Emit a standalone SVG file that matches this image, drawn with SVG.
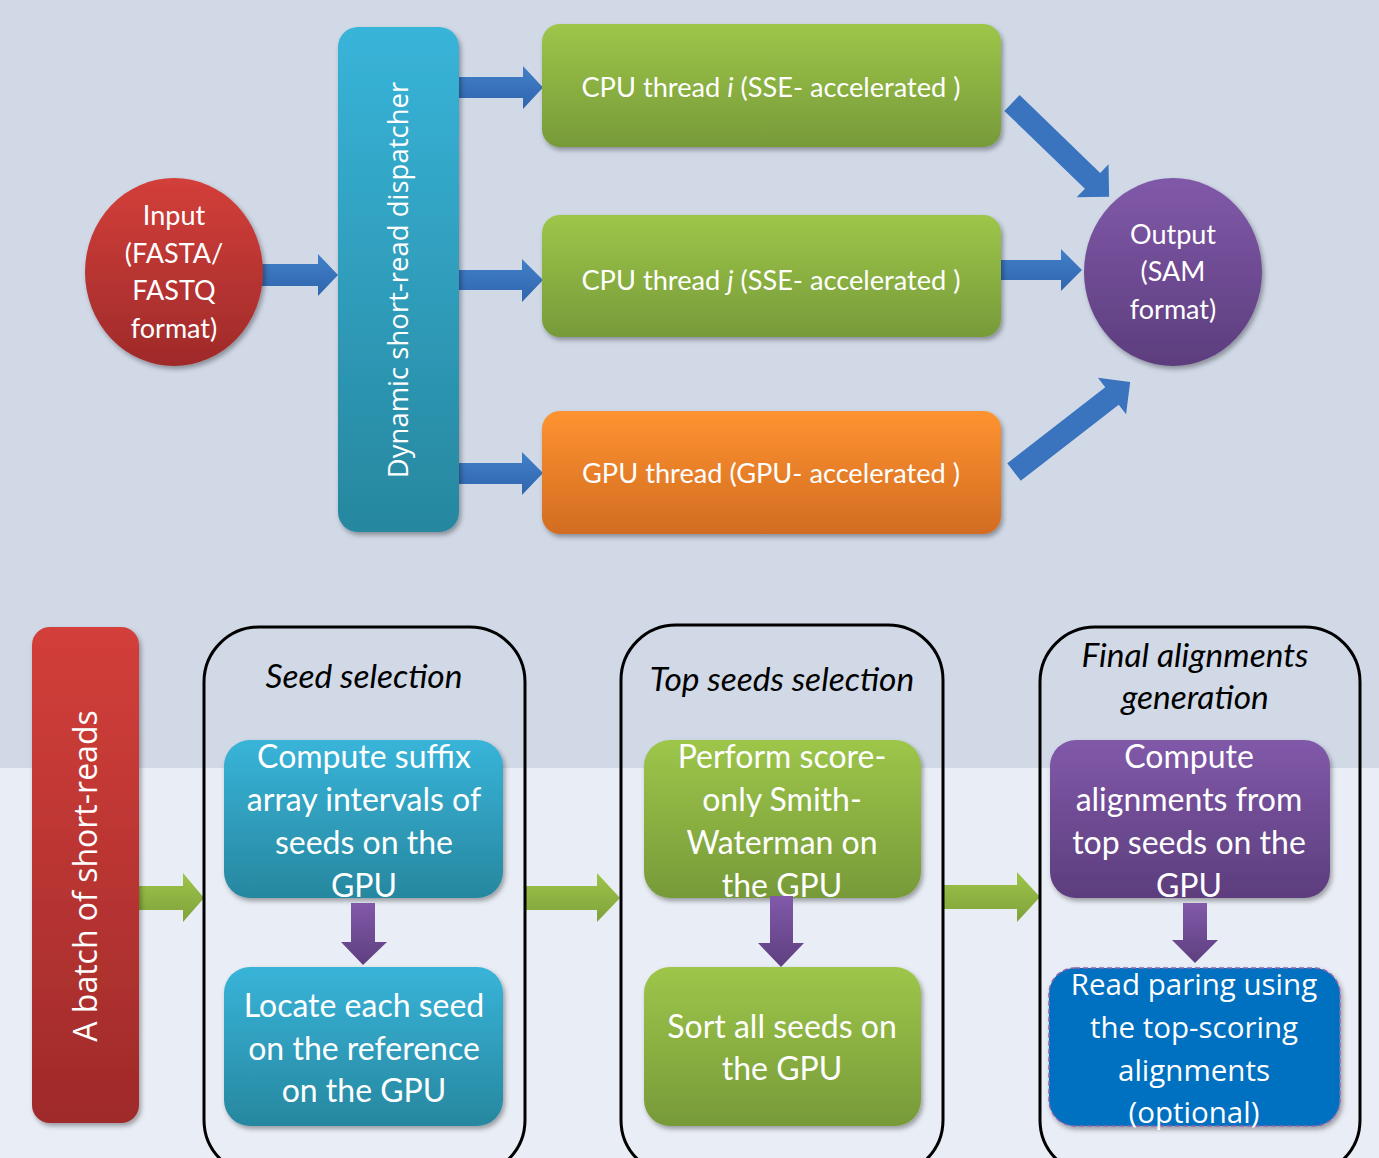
<svg xmlns="http://www.w3.org/2000/svg" width="1379" height="1158" viewBox="0 0 1379 1158">
<defs>
<style>
.cal{font-family:Lato,"Open Sans",sans-serif;fill:#fff;text-anchor:middle}
.seg{font-family:"Open Sans","Noto Sans",sans-serif;fill:#fff;text-anchor:middle}
.ttl{font-family:Lato,"Open Sans",sans-serif;font-style:italic;fill:#000;text-anchor:middle;font-size:33.5px}
.frame{fill:none;stroke:#000;stroke-width:3}
</style>
<linearGradient id="gGreen" x1="0" y1="0" x2="0" y2="1"><stop offset="0" stop-color="#9dc64a"/><stop offset="1" stop-color="#779a39"/></linearGradient>
<linearGradient id="gOrange" x1="0" y1="0" x2="0" y2="1"><stop offset="0" stop-color="#fe9330"/><stop offset="1" stop-color="#d26c22"/></linearGradient>
<linearGradient id="gCyan" x1="0" y1="0" x2="0" y2="1"><stop offset="0" stop-color="#38b4d9"/><stop offset="1" stop-color="#27879f"/></linearGradient>
<linearGradient id="gPurple" x1="0" y1="0" x2="0" y2="1"><stop offset="0" stop-color="#8159a9"/><stop offset="1" stop-color="#5c3d7d"/></linearGradient>
<linearGradient id="gRed" x1="0" y1="0" x2="0" y2="1"><stop offset="0" stop-color="#d33f3a"/><stop offset="1" stop-color="#9f2a2a"/></linearGradient>
<linearGradient id="gBlueA" x1="0" y1="0" x2="0" y2="1"><stop offset="0" stop-color="#4180c8"/><stop offset="1" stop-color="#3065ad"/></linearGradient>
<linearGradient id="gGreenA" x1="0" y1="0" x2="0" y2="1"><stop offset="0" stop-color="#9dc44a"/><stop offset="1" stop-color="#7fa23a"/></linearGradient>
<linearGradient id="gPurpleA" x1="0" y1="0" x2="0" y2="1"><stop offset="0" stop-color="#8159a9"/><stop offset="1" stop-color="#5e3f80"/></linearGradient>
<filter id="sh" x="-10%" y="-10%" width="125%" height="130%"><feDropShadow dx="2" dy="3" stdDeviation="2.5" flood-color="#000" flood-opacity="0.35"/></filter>
</defs>
<rect x="0" y="0" width="1379" height="768" fill="#d1d9e7"/>
<rect x="0" y="768" width="1379" height="390" fill="#e9edf5"/>

<g id="connectors">
<polygon fill="url(#gBlueA)" points="262,264 318,264 318,254 338,275 318,296 318,286 262,286"/>
<polygon fill="url(#gBlueA)" points="459,77 523,77 523,66 543,87.5 523,109 523,98 459,98"/>
<polygon fill="url(#gBlueA)" points="459,270 522,270 522,259 543,280 522,302 522,290 459,290"/>
<polygon fill="url(#gBlueA)" points="459,463 522,463 522,452 543,473 522,495 522,484 459,484"/>
<polygon fill="url(#gBlueA)" points="996,260 1061,260 1061,249 1082,270 1061,291 1061,280 996,280"/>
<polygon fill="#3a74be" transform="translate(1012,103) rotate(44)" points="0,-11 112,-11 112,-23 135,0 112,23 112,11 0,11"/>
<polygon fill="#3a74be" transform="translate(1014,472) rotate(-37.8)" points="0,-11 124,-11 124,-23 147,0 124,23 124,11 0,11"/>
<polygon fill="url(#gGreenA)" points="138,886 183,886 183,873 204,898 183,922 183,910 138,910"/>
<polygon fill="url(#gGreenA)" points="525,886 597,886 597,873 620,898 597,922 597,910 525,910"/>
<polygon fill="url(#gGreenA)" points="943,885 1017,885 1017,872 1040,897 1017,922 1017,909 943,909"/>
</g>

<g id="input">
<ellipse cx="174" cy="272" rx="89" ry="94" fill="url(#gRed)" filter="url(#sh)"/>
<text class="cal" font-size="27"><tspan x="174" y="225">Input</tspan><tspan x="174" y="263">(FASTA/</tspan><tspan x="174" y="300">FASTQ</tspan><tspan x="174" y="338">format)</tspan></text>
</g>
<g id="dispatcher">
<rect x="338" y="27" width="121" height="505" rx="20" fill="url(#gCyan)" filter="url(#sh)"/>
<text class="seg" font-size="27.5" transform="translate(408,280) rotate(-90)" x="0" y="0">Dynamic short-read dispatcher</text>
</g>
<g id="cpu-i">
<rect x="542" y="24" width="459" height="123" rx="18" fill="url(#gGreen)" filter="url(#sh)"/>
<text class="cal" font-size="27.2" x="771" y="97">CPU thread <tspan font-style="italic">i</tspan> (SSE- accelerated )</text>
</g>
<g id="cpu-j">
<rect x="542" y="215" width="459" height="122" rx="18" fill="url(#gGreen)" filter="url(#sh)"/>
<text class="cal" font-size="27.2" x="771" y="290">CPU thread <tspan font-style="italic">j</tspan> (SSE- accelerated )</text>
</g>
<g id="gpu">
<rect x="542" y="411" width="459" height="123" rx="18" fill="url(#gOrange)" filter="url(#sh)"/>
<text class="cal" font-size="27.2" x="771" y="483">GPU thread (GPU- accelerated )</text>
</g>
<g id="output">
<ellipse cx="1173" cy="272" rx="89" ry="94" fill="url(#gPurple)" filter="url(#sh)"/>
<text class="cal" font-size="27"><tspan x="1173" y="244">Output</tspan><tspan x="1173" y="281">(SAM</tspan><tspan x="1173" y="319">format)</tspan></text>
</g>

<g id="batch">
<rect x="32" y="627" width="107" height="496" rx="18" fill="url(#gRed)" filter="url(#sh)"/>
<text class="seg" font-size="32" transform="translate(97,876) rotate(-90)" x="0" y="0">A batch of short-reads</text>
</g>

<g id="seed-selection">
<rect class="frame" x="204" y="627" width="321" height="548" rx="55"/>
<text class="ttl" x="364" y="688">Seed selection</text>
</g>
<g id="compute-suffix">
<rect x="224" y="740" width="279" height="158" rx="26" fill="url(#gCyan)" filter="url(#sh)"/>
<text class="cal" font-size="32"><tspan x="364" y="768">Compute suffix</tspan><tspan x="364" y="811">array intervals of</tspan><tspan x="364" y="854">seeds on the</tspan><tspan x="364" y="897">GPU</tspan></text>
</g>
<g id="locate-seed">
<rect x="224" y="967" width="279" height="159" rx="26" fill="url(#gCyan)" filter="url(#sh)"/>
<text class="cal" font-size="32"><tspan x="364" y="1017">Locate each seed</tspan><tspan x="364" y="1060">on the reference</tspan><tspan x="364" y="1102">on the GPU</tspan></text>
</g>

<g id="top-seeds-selection">
<rect class="frame" x="621" y="625" width="322" height="550" rx="55"/>
<text class="ttl" x="782" y="691">Top seeds selection</text>
</g>
<g id="smith-waterman">
<rect x="644" y="740" width="277" height="158" rx="26" fill="url(#gGreen)" filter="url(#sh)"/>
<text class="cal" font-size="32"><tspan x="782" y="768">Perform score-</tspan><tspan x="782" y="811">only Smith-</tspan><tspan x="782" y="854">Waterman on</tspan><tspan x="782" y="897">the GPU</tspan></text>
</g>
<g id="sort-seeds">
<rect x="644" y="967" width="277" height="159" rx="26" fill="url(#gGreen)" filter="url(#sh)"/>
<text class="cal" font-size="32"><tspan x="782" y="1038">Sort all seeds on</tspan><tspan x="782" y="1080">the GPU</tspan></text>
</g>

<g id="final-alignments">
<rect class="frame" x="1040" y="627" width="320" height="548" rx="55"/>
<text class="ttl"><tspan x="1195" y="667">Final alignments</tspan><tspan x="1195" y="709">generation</tspan></text>
</g>
<g id="compute-alignments">
<rect x="1050" y="740" width="280" height="158" rx="26" fill="url(#gPurple)" filter="url(#sh)"/>
<text class="cal" font-size="32"><tspan x="1189" y="768">Compute</tspan><tspan x="1189" y="811">alignments from</tspan><tspan x="1189" y="854">top seeds on the</tspan><tspan x="1189" y="897">GPU</tspan></text>
</g>
<g id="read-pairing">
<rect x="1049" y="968" width="291" height="158" rx="26" fill="#0070c0" stroke="#8a64ad" stroke-width="1.5" stroke-dasharray="5 3" filter="url(#sh)"/>
<text class="seg" font-size="29.5"><tspan x="1194" y="995">Read paring using</tspan><tspan x="1194" y="1038">the top-scoring</tspan><tspan x="1194" y="1081">alignments</tspan><tspan x="1194" y="1123">(optional)</tspan></text>
</g>

<g id="inner-connectors">
<polygon fill="url(#gPurpleA)" points="351,903 375,903 375,942 387,942 363,965 341,942 351,942"/>
<polygon fill="url(#gPurpleA)" points="770,896 793,896 793,943 804,943 781,967 758,943 770,943"/>
<polygon fill="url(#gPurpleA)" points="1183,903 1207,903 1207,940 1218,940 1195,963 1172,940 1183,940"/>
</g>
</svg>
